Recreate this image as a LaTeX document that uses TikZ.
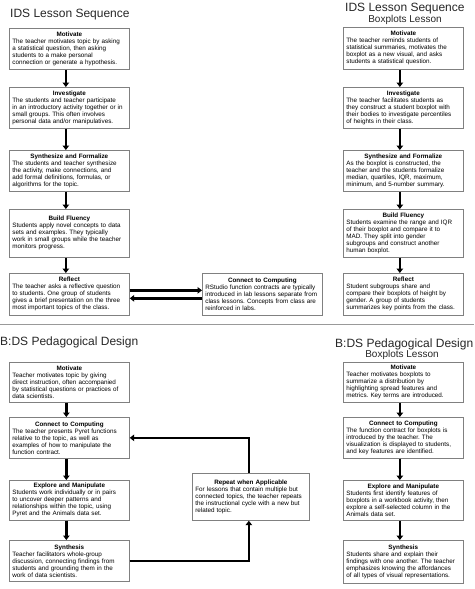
\documentclass[tikz,border=0pt]{standalone}
\usepackage{fontspec}
\setmainfont{Liberation Sans}
\usetikzlibrary{arrows.meta}
\definecolor{boxgray}{HTML}{808080}
\definecolor{sepgray}{HTML}{999999}
\newcommand\bxt[3][114pt]{\makebox[#1]{\textbf{#2}}\\#3}
\frenchspacing
\begin{document}
\begin{tikzpicture}[x=1pt,y=-1pt,
  box/.style={draw=boxgray, line width=0.7pt, fill=white, text width=114pt,
    inner xsep=3pt, inner ysep=2pt, align=left, anchor=north west,
    font=\fontsize{6.3}{7}\selectfont\frenchspacing},
  ttl/.style={font=\fontsize{12}{14}\selectfont, inner sep=0pt, text=black!85},
  sub/.style={font=\fontsize{10}{12}\selectfont, inner sep=0pt, text=black!85},
  arr/.style={line width=2.4pt, -{Triangle[length=4.5pt,width=6.5pt]}},
  cyc/.style={line width=2.4pt}]
\useasboundingbox (0,0) rectangle (474,589);
% titles
\node[ttl, anchor=base west] (t1) at (10,17) {IDS Lesson Sequence};
\node[ttl, anchor=base west] (t2) at (345,12) {IDS Lesson Sequence};
\node[sub, anchor=base] (t2b) at (405,23) {Boxplots Lesson};
\node[ttl, anchor=base west] (t3) at (0,345) {B:DS Pedagogical Design};
\node[ttl, anchor=base west] (t4) at (335,347) {B:DS Pedagogical Design};
\node[sub, anchor=base] (t4b) at (402,357) {Boxplots Lesson};
% separator
\coordinate (sepL) at (0,324);
\coordinate (sepR) at (474,324);
\draw[sepgray, line width=0.8pt] (sepL) -- (sepR);

% ---- IDS left
\node[box, minimum height=41pt] (m1) at (9,28) {\bxt{Motivate}{The teacher motivates topic by asking\\a statistical question, then asking\\students to a make personal\\connection or generate a hypothesis.}};
\node[box, minimum height=41pt] (i1) at (9,87) {\bxt{Investigate}{The students and teacher participate\\in an introductory activity together or in\\small groups. This often involves\\personal data and/or manipulatives.}};
\node[box, minimum height=41pt] (s1) at (9,150) {\bxt{Synthesize and Formalize}{The students and teacher synthesize\\the activity, make connections, and\\add formal definitions, formulas, or\\algorithms for the topic.}};
\node[box, minimum height=48pt] (b1) at (9,209) {\bxt{Build Fluency}{Students apply novel concepts to data\\sets and examples. They typically\\work in small groups while the teacher\\monitors progress.}};
\node[box, minimum height=42pt] (r1) at (9,273) {\bxt{Reflect}{The teacher asks a reflective question\\to students. One group of students\\gives a brief presentation on the three\\most important topics of the class.}};
\node[box, minimum height=42pt] (c1) at (202,273) {\bxt{Connect to Computing}{RStudio function contracts are typically\\introduced in lab lessons separate from\\class lessons. Concepts from class are\\reinforced in labs.}};

\foreach \a/\b in {m1/i1,i1/s1,s1/b1,b1/r1}
  \draw[arr] ([xshift=-3.5pt]\a.south) -- ([xshift=-3.5pt]\b.north);
\draw[arr] ([yshift=4pt]r1.east) -- ([yshift=4pt]c1.west);
\draw[arr] ([yshift=-4pt]c1.west) -- ([yshift=-4pt]r1.east);

% ---- IDS right
\node[box, minimum height=42pt] (m2) at (343,27) {\bxt{Motivate}{The teacher reminds students of\\statistical summaries, motivates the\\boxplot as a new visual, and asks\\students a statistical question.}};
\node[box, minimum height=41pt] (i2) at (343,87) {\bxt{Investigate}{The teacher facilitates students as\\they construct a student boxplot with\\their bodies to investigate percentiles\\of heights in their class.}};
\node[box, minimum height=41pt] (s2) at (343,150) {\bxt{Synthesize and Formalize}{As the boxplot is constructed, the\\teacher and the students formalize\\median, quartiles, IQR, maximum,\\minimum, and 5-number summary.}};
\node[box, minimum height=48pt] (b2) at (343,209) {\bxt{Build Fluency}{Students examine the range and IQR\\of their boxplot and compare it to\\MAD. They split into gender\\subgroups and construct another\\human boxplot.}};
\node[box, minimum height=42pt] (r2) at (343,273) {\bxt{Reflect}{Student subgroups share and\\compare their boxplots of height by\\gender. A group of students\\summarizes key points from the class.}};
\foreach \a/\b in {m2/i2,i2/s2,s2/b2,b2/r2}
  \draw[arr] ([xshift=-3.5pt]\a.south) -- ([xshift=-3.5pt]\b.north);

% ---- B:DS left
\node[box, minimum height=40pt] (m3) at (9,362) {\bxt{Motivate}{Teacher motivates topic by giving\\direct instruction, often accompanied\\by statistical questions or practices of\\data scientists.}};
\node[box, minimum height=41pt] (c3) at (9,417) {\bxt{Connect to Computing}{The teacher presents Pyret functions\\relative to the topic, as well as\\examples of how to manipulate the\\function contract.}};
\node[box, minimum height=40pt] (e3) at (9,480) {\bxt{Explore and Manipulate}{Students work individually or in pairs\\to uncover deeper patterns and\\relationships within the topic, using\\Pyret and the Animals data set.}};
\node[box, minimum height=41pt] (y3) at (9,540) {\bxt{Synthesis}{Teacher facilitators whole-group\\discussion, connecting findings from\\students and grounding them in the\\work of data scientists.}};
\node[box, minimum height=47pt, text width=111pt] (rep) at (192,473) {\bxt[111pt]{Repeat when Applicable}{For lessons that contain multiple but\\connected topics, the teacher repeats\\the instructional cycle with a new but\\related topic.}};
\foreach \a/\b in {m3/c3,c3/e3,e3/y3}
  \draw[arr] ([xshift=-3pt]\a.south) -- ([xshift=-3pt]\b.north);
\draw[arr] (y3.east) -| ([xshift=-2pt]rep.south);
\draw[arr] ([xshift=-2pt]rep.north) |- (c3.east);

% ---- B:DS right
\node[box, minimum height=40pt] (m4) at (343,362) {\bxt{Motivate}{Teacher motivates boxplots to\\summarize a distribution by\\highlighting spread features and\\metrics. Key terms are introduced.}};
\node[box, minimum height=41pt] (c4) at (343,417) {\bxt{Connect to Computing}{The function contract for boxplots is\\introduced by the teacher. The\\visualization is displayed to students,\\and key features are identified.}};
\node[box, minimum height=40pt] (e4) at (343,480) {\bxt{Explore and Manipulate}{Students first identify features of\\boxplots in a workbook activity, then\\explore a self-selected column in the\\Animals data set.}};
\node[box, minimum height=43pt] (y4) at (343,540) {\bxt{Synthesis}{Students share and explain their\\findings with one another. The teacher\\emphasizes knowing the affordances\\of all types of visual representations.}};
\foreach \a/\b in {m4/c4,c4/e4,e4/y4}
  \draw[arr] ([xshift=-3.5pt]\a.south) -- ([xshift=-3.5pt]\b.north);
\end{tikzpicture}
\end{document}
